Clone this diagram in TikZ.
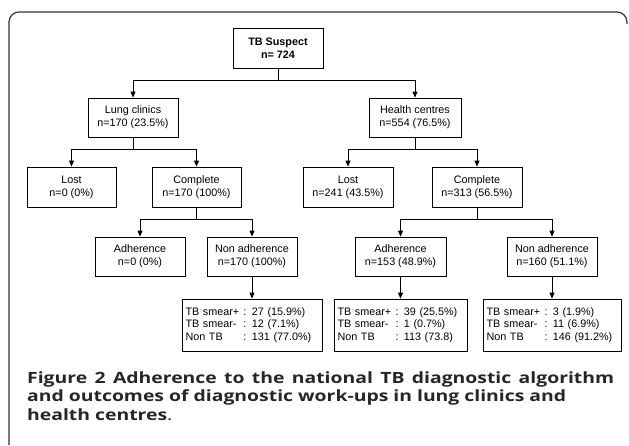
\documentclass[tikz,border=0pt]{standalone}
\usepackage{fontspec}
\setmainfont{Liberation Sans}
\newfontfamily\capfont[FakeStretch=1.25]{Open Sans}
\usepackage{tikz}
\usetikzlibrary{arrows.meta,calc}
\tikzstyle{box}=[draw, line width=0.8pt, minimum width=90pt, minimum height=39pt, inner sep=2pt, align=center, font=\fontsize{10.8}{13}\selectfont]
\tikzstyle{res}=[draw, line width=0.8pt, minimum height=52pt, inner sep=3.5pt, align=left, font=\fontsize{10.8}{12.5}\selectfont]
\tikzstyle{arr}=[line width=0.8pt, -{Triangle[length=6pt,width=5pt]}]
\tikzstyle{lin}=[line width=0.8pt]
\newcommand{\resrow}[2]{\makebox[58pt][l]{#1}: #2}

\begin{document}
\begin{tikzpicture}[x=1pt,y=-1pt]
\useasboundingbox (0,0) rectangle (629,445);
\draw[line width=1.2pt, color=black!80, rounded corners=10pt] (9,445) -- (9,12) -- (627,12) -- (627,24);
% first level
\node[box, minimum width=90pt, minimum height=40pt, font=\fontsize{10.8}{13}\selectfont\bfseries] (tb) at (278,48) {TB Suspect\\n= 724};
\node[box] (lung) at (133,117.5) {Lung clinics\\n=170 (23.5\%)};
\node[box, minimum width=92pt] (hc) at (415,117.5) {Health centres\\n=554 (76.5\%)};
% second level
\node[box, minimum width=89pt, minimum height=40pt] (lostL) at (71.5,187) {Lost\\n=0 (0\%)};
\node[box, minimum width=89pt, minimum height=40pt] (compL) at (196.5,187) {Complete\\n=170 (100\%)};
\node[box, minimum height=40pt] (lostH) at (348,187) {Lost\\n=241 (43.5\%)};
\node[box, minimum height=40pt] (compH) at (477,187) {Complete\\n=313 (56.5\%)};
% third level
\node[box] (adhL) at (140,256.5) {Adherence\\n=0 (0\%)};
\node[box] (nonL) at (252,256.5) {Non adherence\\n=170 (100\%)};
\node[box, minimum width=91pt] (adhH) at (400.5,256.5) {Adherence\\n=153 (48.9\%)};
\node[box] (nonH) at (552,256.5) {Non adherence\\n=160 (51.1\%)};
% outcomes
\node[res, text width=133pt] (resL) at (252,325) {\resrow{TB smear+}{27 (15.9\%)}\\\resrow{TB smear-}{12 (7.1\%)}\\\resrow{Non TB}{131 (77.0\%)}};
\node[res, text width=126pt] (resA) at (400.5,325) {\resrow{TB smear+}{39 (25.5\%)}\\\resrow{TB smear-}{1 (0.7\%)}\\\resrow{Non TB}{113 (73.8)}};
\node[res, text width=131pt] (resN) at (552,325) {\resrow{TB smear+}{3 (1.9\%)}\\\resrow{TB smear-}{11 (6.9\%)}\\\resrow{Non TB}{146 (91.2\%)}};
% connectors
\coordinate (j0) at ([yshift=-12pt]tb.south);
\coordinate (j1) at ([yshift=-12pt]lung.south);
\coordinate (j2) at ([yshift=-12pt]hc.south);
\coordinate (j3) at ([yshift=-12pt]compL.south);
\coordinate (j4) at ([yshift=-12pt]compH.south);
\draw[lin] (tb.south) -- (j0);
\draw[arr] (j0) -| (lung.north);
\draw[arr] (j0) -| (hc.north);
\draw[lin] (lung.south) -- (j1);
\draw[arr] (j1) -| (lostL.north);
\draw[arr] (j1) -| (compL.north);
\draw[lin] (hc.south) -- (j2);
\draw[arr] (j2) -| (lostH.north);
\draw[arr] (j2) -| (compH.north);
\draw[lin] (compL.south) -- (j3);
\draw[arr] (j3) -| (adhL.north);
\draw[arr] (j3) -| (nonL.north);
\draw[lin] (compH.south) -- (j4);
\draw[arr] (j4) -| (adhH.north);
\draw[arr] (j4) -| (nonH.north);
\draw[arr] (nonL.south) -- (resL.north);
\draw[arr] (adhH.south) -- (resA.north);
\draw[arr] (nonH.south) -- (resN.north);
% caption
\node[anchor=base west, inner sep=0pt, text width=587pt, align=justify, text=black!85, font=\capfont\fontsize{15.5}{18.5}\selectfont] (cap) at (27,383)
  {\textbf{Figure 2 Adherence to the national TB diagnostic algorithm}\linebreak \textbf{and outcomes of diagnostic work-ups in lung clinics and}\\ \textbf{health centres}.};
\end{tikzpicture}
\end{document}
